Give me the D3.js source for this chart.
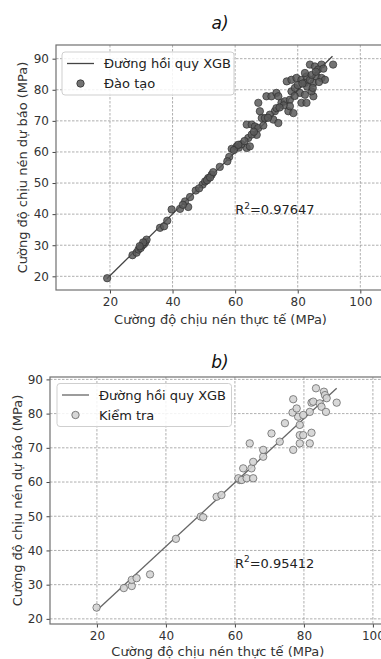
<!DOCTYPE html>
<html>
<head>
<meta charset="utf-8">
<script src="https://cdn.jsdelivr.net/npm/d3@7"></script>
<style>
  body { margin: 0; background: #fff; }
  svg { display: block; font-family: "DejaVu Sans", sans-serif; }
</style>
</head>
<body>
<script>
// training set: actual vs predicted (MPa)
const trainActual = [19.1, 27.2, 28.5, 29.1, 29.8, 30.3, 30.9, 31.3, 31.7, 30.6, 29.5, 36.0, 37.3, 38.3, 39.7, 42.4, 45.0, 44.0, 43.3, 45.6,
  47.4, 49.6, 50.4, 51.4, 52.5, 51.0, 52.0, 53.0, 55.1, 58.1, 58.9, 60.5, 61.2, 59.6, 63.7, 62.0, 61.0, 64.7, 64.2, 66.9,
  65.3, 63.7, 65.3, 66.3, 67.4, 68.5, 69.5, 67.9, 67.4, 70.0, 71.6, 73.2, 73.8, 72.7, 71.1, 72.2, 73.8, 73.2, 74.8, 75.9,
  77.0, 78.6, 77.5, 78.0, 79.1, 76.5, 78.0, 79.6, 81.2, 82.3, 82.8, 80.7, 81.2, 82.3, 82.8, 85.0, 84.4, 85.0, 83.9, 86.0,
  87.6, 88.7, 83.9, 85.5, 87.6, 91.3, 82.3, 86.5, 77.5, 80.0, 83.0, 84.5, 85.8, 81.5, 79.0, 75.5, 70.5, 69.0, 66.0, 63.0,
  74.2, 84.8, 86.8, 88.2, 57.5, 48.5];
const trainPred = [19.4, 26.8, 27.6, 28.6, 29.1, 29.9, 30.4, 31.0, 31.8, 30.9, 29.7, 35.6, 36.1, 37.9, 41.5, 41.7, 42.3, 44.1, 43.0, 45.5,
  47.6, 49.5, 50.5, 51.6, 52.7, 50.9, 51.8, 53.5, 55.2, 58.4, 61.0, 61.8, 61.4, 60.6, 61.3, 62.5, 62.3, 61.8, 64.5, 65.5,
  65.6, 68.8, 68.8, 68.2, 67.7, 70.9, 70.9, 73.1, 75.8, 77.9, 77.9, 79.0, 77.9, 73.1, 72.0, 70.4, 69.3, 74.1, 75.8, 76.3,
  73.1, 72.5, 76.8, 79.5, 80.6, 82.7, 83.2, 83.8, 83.2, 82.2, 84.3, 79.0, 75.8, 78.4, 75.8, 77.9, 79.5, 82.2, 83.2, 84.3,
  83.8, 83.2, 88.1, 87.5, 88.1, 88.1, 85.4, 86.5, 74.7, 81.5, 81.0, 84.8, 85.8, 82.0, 78.0, 75.0, 71.0, 68.5, 66.5, 63.5,
  74.3, 80.6, 82.5, 86.8, 57.0, 48.3];

// test set
const testActual = [19.9, 27.8, 30.1, 30.1, 31.5, 35.4, 42.9, 50.1, 50.8, 54.7, 56.1, 61.4, 61.0, 62.0, 63.4, 65.3, 62.4, 64.8, 65.3, 64.3,
  68.2, 68.2, 70.6, 73.0, 74.5, 76.9, 78.8, 78.8, 79.8, 81.7, 82.2, 78.8, 78.3, 76.7, 77.9, 76.9, 79.8, 81.7, 82.2, 82.7,
  83.5, 84.6, 85.8, 86.1, 86.6, 85.1, 86.4, 89.5];
const testPred = [23.3, 29.0, 29.6, 31.4, 31.9, 33.0, 43.4, 49.9, 49.7, 55.7, 56.2, 60.6, 61.1, 60.6, 61.1, 61.1, 64.0, 64.0, 65.9, 71.3,
  67.4, 69.4, 74.2, 71.8, 77.2, 69.4, 71.3, 73.7, 73.7, 71.3, 74.4, 76.7, 79.1, 80.3, 81.5, 84.2, 79.6, 80.5, 83.2, 83.5,
  87.4, 83.0, 86.4, 85.4, 84.5, 82.0, 80.5, 83.2];

// regression line end points
const trainLineX = [19.0, 91.1];
const trainLineY = [19.2, 90.8];
const testLineX = [20.0, 89.5];
const testLineY = [22.5, 87.4];

const xTicks = [20, 40, 60, 80, 100];
const yTicks = [20, 30, 40, 50, 60, 70, 80, 90];

const xLabel = "Cường độ chịu nén thực tế (MPa)";
const yLabel = "Cường độ chịu nén dự báo (MPa)";
const lineName = "Đường hồi quy XGB";

const svg = d3.select("body").append("svg")
  .attr("width", 381)
  .attr("height", 659);

function drawPanel(p) {
  const x = d3.scaleLinear().domain(p.xDomain).range([p.left, p.right]);
  const y = d3.scaleLinear().domain(p.yDomain).range([p.bottom, p.top]);
  const g = svg.append("g");

  // grid
  g.selectAll("line.gx").data(xTicks).enter().append("line")
    .attr("x1", d => x(d)).attr("x2", d => x(d))
    .attr("y1", p.top).attr("y2", p.bottom)
    .attr("stroke", "#9a9a9a").attr("stroke-width", 0.8)
    .attr("stroke-dasharray", "2.5,1.5");
  g.selectAll("line.gy").data(yTicks).enter().append("line")
    .attr("x1", p.left).attr("x2", p.right)
    .attr("y1", d => y(d)).attr("y2", d => y(d))
    .attr("stroke", "#9a9a9a").attr("stroke-width", 0.8)
    .attr("stroke-dasharray", "2.5,1.5");

  // axes
  const ax = g.append("g").attr("transform", `translate(0,${p.bottom})`)
    .call(d3.axisBottom(x).tickValues(xTicks).tickSizeInner(3.5).tickSizeOuter(0).tickPadding(3.5));
  const ay = g.append("g").attr("transform", `translate(${p.left},0)`)
    .call(d3.axisLeft(y).tickValues(yTicks).tickSizeInner(3.5).tickSizeOuter(0).tickPadding(3.5));
  [ax, ay].forEach(a => {
    a.select(".domain").remove();
    a.selectAll("line").attr("stroke", "#444");
    a.selectAll("text").attr("font-size", 12).attr("fill", "#333")
      .attr("font-family", "DejaVu Sans");
  });

  // frame
  g.append("rect")
    .attr("x", p.left).attr("y", p.top)
    .attr("width", p.right - p.left).attr("height", p.bottom - p.top)
    .attr("fill", "none").attr("stroke", "#707070").attr("stroke-width", 1.2);

  // regression line
  g.append("path")
    .datum(d3.zip(p.lineX, p.lineY))
    .attr("fill", "none").attr("stroke", p.lineColor).attr("stroke-width", 1.3)
    .attr("d", d3.line().x(d => x(d[0])).y(d => y(d[1])));

  // points
  g.selectAll("circle.pt").data(d3.zip(p.xs, p.ys)).enter().append("circle")
    .attr("cx", d => x(d[0])).attr("cy", d => y(d[1]))
    .attr("r", 3.7)
    .attr("fill", p.fill).attr("fill-opacity", p.alpha)
    .attr("stroke", p.stroke).attr("stroke-width", 0.8).attr("stroke-opacity", p.alpha);

  // R2 text, superscript like mathtext
  const r2 = g.append("text")
    .attr("x", x(p.r2At[0])).attr("y", y(p.r2At[1]))
    .attr("font-size", 13).attr("fill", "#222");
  r2.append("tspan").text("R");
  r2.append("tspan").attr("font-size", 9).attr("dy", -5.5).text("2");
  r2.append("tspan").attr("dy", 5.5).text("=" + p.r2);

  // titles
  g.append("text")
    .attr("x", 220).attr("y", p.titleY)
    .attr("text-anchor", "middle").attr("font-size", 17).attr("font-style", "italic")
    .attr("fill", "#111").text(p.title);
  g.append("text")
    .attr("x", (p.left + p.right) / 2 + 1).attr("y", p.xLabelY)
    .attr("text-anchor", "middle").attr("font-size", 13).attr("fill", "#333")
    .text(xLabel);
  g.append("text")
    .attr("transform", `translate(${p.yLabelX},${(p.top + p.bottom) / 2}) rotate(-90)`)
    .attr("text-anchor", "middle").attr("font-size", 13).attr("fill", "#333")
    .text(yLabel);

  // legend
  const L = p.legend;
  g.append("rect")
    .attr("x", L.x).attr("y", L.y).attr("width", L.w).attr("height", L.h).attr("rx", 3)
    .attr("fill", "#fff").attr("fill-opacity", 0.85)
    .attr("stroke", "#cfcfcf").attr("stroke-width", 1);
  g.append("line")
    .attr("x1", L.x + 5).attr("x2", L.x + 32)
    .attr("y1", L.y + 11.5).attr("y2", L.y + 11.5)
    .attr("stroke", p.lineColor).attr("stroke-width", 1.3);
  g.append("text")
    .attr("x", L.x + L.textDx).attr("y", L.y + 16)
    .attr("font-size", 13).attr("fill", "#222").text(lineName);
  g.append("circle")
    .attr("cx", L.x + 18.5).attr("cy", L.y + 31.5).attr("r", 3.7)
    .attr("fill", p.fill).attr("fill-opacity", p.alpha)
    .attr("stroke", p.stroke).attr("stroke-width", 0.8);
  g.append("text")
    .attr("x", L.x + L.textDx).attr("y", L.y + 36)
    .attr("font-size", 13).attr("fill", "#222").text(p.seriesName);
}

drawPanel({
  left: 56, right: 383, top: 45, bottom: 290,
  xDomain: [2.75, 107.25], yDomain: [15.6, 94.4],
  xs: trainActual, ys: trainPred, lineX: trainLineX, lineY: trainLineY,
  fill: "#5a5a5a", stroke: "#2e2e2e", alpha: 0.85, lineColor: "#444",
  r2: "0.97647", r2At: [60, 40],
  title: "a)", titleY: 29, xLabelY: 324, yLabelX: 27,
  seriesName: "Đào tạo",
  legend: { x: 62, y: 52, w: 172, h: 43, textDx: 42 }
});

drawPanel({
  left: 50, right: 383.6, top: 377, bottom: 624,
  xDomain: [6.4, 103.1], yDomain: [18.5, 90.7],
  xs: testActual, ys: testPred, lineX: testLineX, lineY: testLineY,
  fill: "#d4d4d4", stroke: "#5e5e5e", alpha: 0.9, lineColor: "#666",
  r2: "0.95412", r2At: [60, 35],
  title: "b)", titleY: 368, xLabelY: 656, yLabelX: 22,
  seriesName: "Kiểm tra",
  legend: { x: 57, y: 383.5, w: 174.5, h: 43, textDx: 42 }
});
</script>
</body>
</html>
